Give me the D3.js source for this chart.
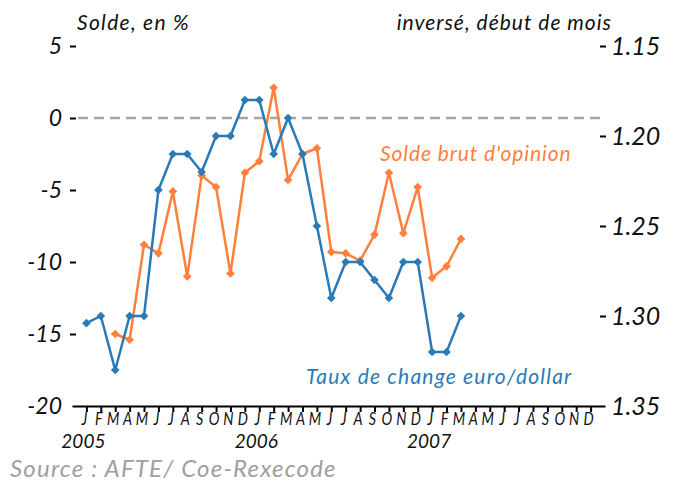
<!DOCTYPE html>
<html>
<head>
<meta charset="utf-8">
<script src="https://cdn.jsdelivr.net/npm/d3@7"></script>
<style>
  body { margin: 0; background: #fff; }
  svg text { font-family: Lato, 'Open Sans', sans-serif; font-style: italic; }
</style>
</head>
<body>
<svg id="chart"></svg>
<script>
// month letters and years for the x axis
const monthLabels = ['J', 'F', 'M', 'A', 'M', 'J', 'J', 'A', 'S', 'O', 'N', 'D'];
const years = ['2005', '2006', '2007'];

// Solde brut d'opinion, in % (starts in March 2005)
const solde = [null, null, -15.0, -15.4, -8.8, -9.4, -5.1, -11.0, -4.0, -4.8, -10.8, -3.8,
  -3.0, 2.1, -4.3, -2.5, -2.1, -9.3, -9.4, -9.9, -8.1, -3.8, -8.0, -4.8,
  -11.1, -10.3, -8.4];

// euro/dollar exchange rate, start of month (plotted inverted)
const euro = [1.304, 1.30, 1.33, 1.30, 1.30, 1.23, 1.21, 1.21, 1.22, 1.20, 1.20, 1.18,
  1.18, 1.21, 1.19, 1.21, 1.25, 1.29, 1.27, 1.27, 1.28, 1.29, 1.27, 1.27,
  1.32, 1.32, 1.30];

const leftTicks = [5, 0, -5, -10, -15, -20];
const rightTicks = [1.15, 1.20, 1.25, 1.30, 1.35];

const width = 686;
const height = 483;
const orange = '#ff7f3c';
const blue = '#2a7ab8';

const svg = d3.select('#chart')
  .attr('width', width)
  .attr('height', height);

const nMonths = monthLabels.length * years.length;

// scales
const xScale = d3.scaleLinear()
  .domain([-1, nMonths])
  .range([72, 605]);

const yLeft = d3.scaleLinear()
  .domain([-20, 5])
  .range([406, 46]);

// inverted: 1.15 at the top
const yRight = d3.scaleLinear()
  .domain([1.15, 1.35])
  .range([46, 406]);

// zero line
svg.append('line')
  .attr('x1', 78)
  .attr('x2', 600)
  .attr('y1', yLeft(0))
  .attr('y2', yLeft(0))
  .attr('stroke', '#a6a6a6')
  .attr('stroke-width', 2.5)
  .attr('stroke-dasharray', '10,6');

// left axis
const leftAxis = svg.append('g')
  .attr('transform', 'translate(76,0)')
  .call(d3.axisLeft(yLeft).tickValues(leftTicks).tickSize(6).tickPadding(8).tickFormat(d => String(d)));
leftAxis.select('.domain').remove();
leftAxis.selectAll('.tick line').attr('stroke', '#000').attr('stroke-width', 2);
leftAxis.selectAll('.tick text')
  .attr('font-size', 23)
  .attr('fill', '#111')
  .style('font-family', 'Lato, sans-serif');
// -20 sits on the time axis, no dash there
leftAxis.selectAll('.tick').filter(d => d === -20).select('line').remove();

// right axis
const rightAxis = svg.append('g')
  .attr('transform', 'translate(600,0)')
  .call(d3.axisRight(yRight).tickValues(rightTicks).tickSize(6).tickPadding(5).tickFormat(d3.format('.2f')));
rightAxis.select('.domain').remove();
rightAxis.selectAll('.tick line').attr('stroke', '#000').attr('stroke-width', 2);
rightAxis.selectAll('.tick text')
  .attr('font-size', 25)
  .attr('fill', '#111')
  .style('font-family', 'Lato, sans-serif');
rightAxis.selectAll('.tick').filter(d => d === 1.35).select('line').remove();

// time axis
const xAxis = svg.append('g')
  .attr('transform', `translate(0,${yLeft(-20)})`)
  .call(d3.axisBottom(xScale).tickValues(d3.range(nMonths)).tickSize(6).tickSizeOuter(0).tickFormat(''));
xAxis.select('.domain').attr('stroke', '#000').attr('stroke-width', 2);
xAxis.selectAll('.tick line').attr('stroke', '#000').attr('stroke-width', 2);

// condensed month letters
const allMonths = d3.range(nMonths).map(i => monthLabels[i % 12]);
svg.append('g')
  .selectAll('text')
  .data(allMonths)
  .join('text')
    .attr('transform', (d, i) => `translate(${xScale(i) - 2},425) scale(0.8,1)`)
    .attr('text-anchor', 'middle')
    .attr('font-size', 18)
    .attr('fill', '#111')
    .text(d => d);

svg.append('g')
  .selectAll('text')
  .data(years)
  .join('text')
    .attr('x', (d, i) => xScale(i * 12) - 3)
    .attr('y', 448)
    .attr('text-anchor', 'middle')
    .attr('font-size', 19)
    .attr('fill', '#111')
    .text(d => d);

// axis titles
svg.append('text')
  .attr('x', 77)
  .attr('y', 30)
  .attr('font-size', 21)
  .attr('letter-spacing', 1.3)
  .attr('fill', '#111')
  .text('Solde, en %');

svg.append('text')
  .attr('x', 612)
  .attr('y', 30)
  .attr('text-anchor', 'end')
  .attr('font-size', 21)
  .attr('letter-spacing', 1)
  .attr('fill', '#111')
  .text('inversé, début de mois');

// series
const series = [
  { name: 'solde', values: solde, y: yLeft, color: orange },
  { name: 'euro', values: euro, y: yRight, color: blue }
];

const diamond = d3.symbol().type(d3.symbolDiamond2).size(48);

series.forEach(s => {
  const pts = s.values.map((v, i) => ({ i, v })).filter(d => d.v !== null);

  const line = d3.line()
    .x(d => xScale(d.i))
    .y(d => s.y(d.v));

  svg.append('path')
    .datum(pts)
    .attr('fill', 'none')
    .attr('stroke', s.color)
    .attr('stroke-width', 2.5)
    .attr('stroke-linejoin', 'round')
    .attr('d', line);

  svg.append('g')
    .selectAll('path')
    .data(pts)
    .join('path')
      .attr('transform', d => `translate(${xScale(d.i)},${s.y(d.v)})`)
      .attr('d', diamond)
      .attr('fill', s.color);
});

// series labels
svg.append('text')
  .attr('x', 380)
  .attr('y', 161)
  .attr('font-size', 21)
  .attr('letter-spacing', 0.9)
  .attr('fill', orange)
  .text('Solde brut d\'opinion');

svg.append('text')
  .attr('x', 306)
  .attr('y', 384)
  .attr('font-size', 21)
  .attr('letter-spacing', 1.2)
  .attr('fill', blue)
  .text('Taux de change euro/dollar');

// source
svg.append('text')
  .attr('x', 10)
  .attr('y', 477)
  .attr('font-size', 24)
  .attr('letter-spacing', 1.2)
  .attr('fill', '#a0a0a0')
  .text('Source : AFTE/ Coe-Rexecode');
</script>
</body>
</html>
